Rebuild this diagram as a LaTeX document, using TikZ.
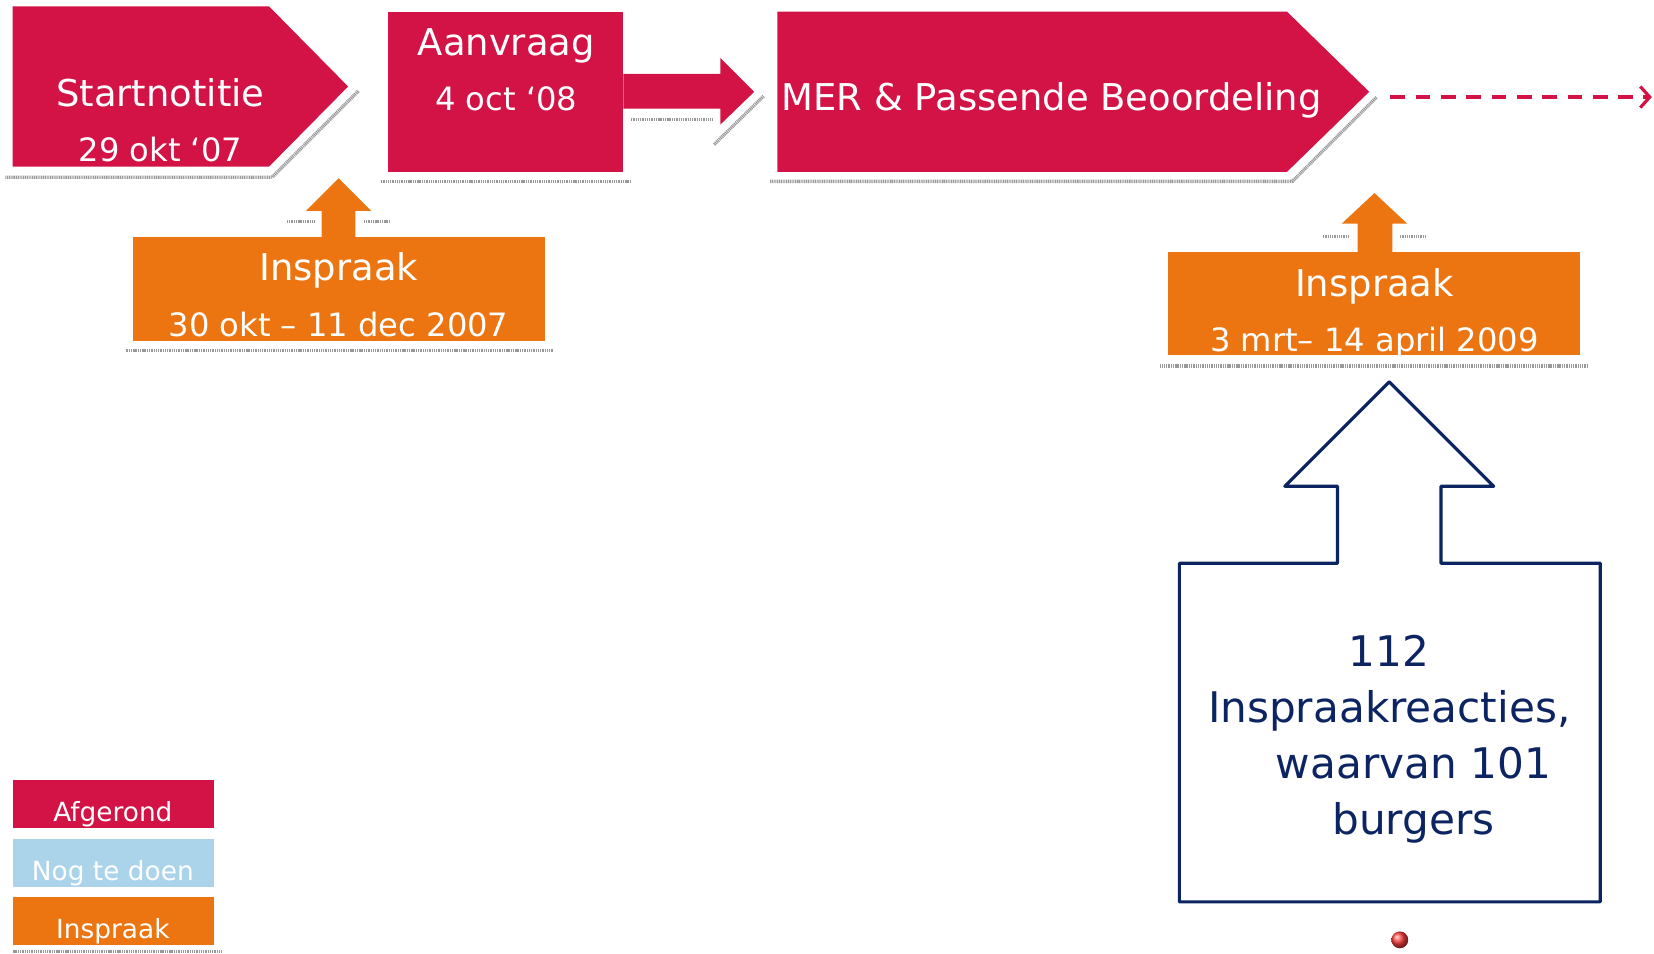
\documentclass[tikz,border=0pt]{standalone}
\usepackage{fontspec}
\setmainfont{DejaVu Sans}
\usetikzlibrary{arrows.meta}

\definecolor{afgerond}{HTML}{D31245}
\definecolor{inspraak}{HTML}{EC7511}
\definecolor{nogtedoen}{HTML}{ABD4EA}
\definecolor{navy}{HTML}{0D2463}

\begin{document}
\begin{tikzpicture} [
                x=1pt, y=-1pt,
                % filled phase shapes
                phase/.style = {fill=afgerond},
                reaction/.style = {fill=inspraak},
                % texts
                title/.style = {anchor=base, text=white, inner sep=0pt, font=\fontsize{35}{40}\selectfont},
                date/.style = {anchor=base, text=white, inner sep=0pt, font=\fontsize{30.5}{36}\selectfont},
                legend text/.style = {anchor=base, text=white, inner sep=0pt, font=\fontsize{25}{30}\selectfont},
                count text/.style = {text=navy, align=center, inner sep=0pt, font=\fontsize{40}{53}\selectfont},
                % the grey shadow traces below the shapes
                shadow trace/.style = {draw=gray!80, line width=3.2pt, dash pattern=on 1pt off 0.7pt}
            ]
            \useasboundingbox (0,0) rectangle (1568,904);
            % shadow traces first
            \path[shadow trace] (5,168) -- (258,168) -- (340,86);
            \path[shadow trace] (361,172) -- (598,172);
            \path[shadow trace] (598,113) -- (675,113);
            \path[shadow trace] (677,137) -- (724,91);
            \path[shadow trace] (730,172) -- (1225,172) -- (1305,92);
            \path[shadow trace] (119,332) -- (524,332);
            \path[shadow trace] (272,210) -- (298,210) (345,210) -- (370,210);
            \path[shadow trace] (1100,347) -- (1505,347);
            \path[shadow trace] (1254,224) -- (1279,224) (1327,224) -- (1352,224);
            \path[shadow trace] (12,902) -- (210,902);
            % the finished phases
            \path[phase] (12,6) -- (255,6) -- (330,82) -- (255,158) -- (12,158) -- cycle;
            \path[phase] (368,11) rectangle (591,163);
            \path[phase] (591,70) -- (683,70) -- (683,55) -- (715,87) -- (683,118) -- (683,103) -- (591,103) -- cycle;
            \path[phase] (737,11) -- (1220,11) -- (1298,87) -- (1220,163) -- (737,163) -- cycle;
            \node[title] (start) at (152,101) {Startnotitie};
            \node[date] (startdate) at (152,153) {29 okt `07};
            \node[title] (aanvraag) at (480,53) {Aanvraag};
            \node[date] (aanvraagdate) at (480,105) {4 oct `08};
            \node[title] (mer) at (997,105) {MER \& Passende Beoordeling};
            % still to come
            \coordinate (mertip) at (1318,92);
            \coordinate (nextphase) at (1566,92);
            \draw[afgerond, line width=3pt, dash pattern=on 14pt off 10pt,
                  -{Straight Barb[length=9pt, width=20pt, line width=3pt]}] (mertip) -- (nextphase);
            % the two inspraak periods
            \path[reaction] (126,225) rectangle (517,323);
            \path[reaction] (305,226) -- (305,200) -- (290,200) -- (321,169) -- (352,200) -- (337,200) -- (337,226) -- cycle;
            \node[title] (insp1) at (321,266) {Inspraak};
            \node[date] (insp1date) at (321,319) {30 okt -- 11 dec 2007};
            \path[reaction] (1107,239) rectangle (1498,337);
            \path[reaction] (1287,240) -- (1287,212) -- (1272,212) -- (1303,183) -- (1334,212) -- (1320,212) -- (1320,240) -- cycle;
            \node[title] (insp2) at (1303,281) {Inspraak};
            \node[date] (insp2date) at (1303,333) {3 mrt-- 14 april 2009};
            % the reactions
            \draw[navy, line width=3pt, line join=round]
                (1118,855) -- (1118,534) -- (1268,534) -- (1268,461) -- (1218,461) -- (1317,362)
                -- (1416,461) -- (1366,461) -- (1366,534) -- (1517,534) -- (1517,855) -- cycle;
            \node[count text] (reacties) at (1317,701)
                {112\\Inspraakreacties,\\\hspace*{1.15em}waarvan 101\\\hspace*{1.15em}burgers};
            \shade[ball color=red!75] (1327,891) circle (8);
            % legend
            \foreach \top/\colour/\name/\txt in {739/afgerond/legdone/Afgerond,
                                                 795/nogtedoen/legtodo/Nog te doen,
                                                 850/inspraak/leginsp/Inspraak}
            {
                \path[fill=\colour] (12,\top) rectangle (203,\top+46);
                \node[legend text] (\name) at (107,\top+40) {\txt};
            }
        \end{tikzpicture}
\end{document}
